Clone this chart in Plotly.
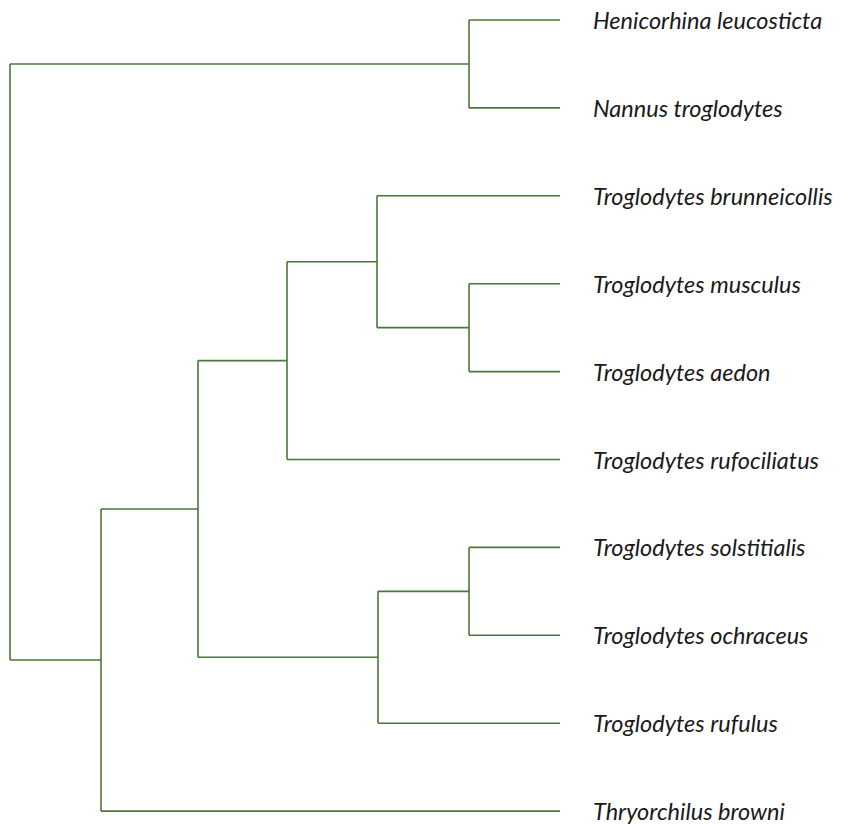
import plotly.graph_objects as go

# Leaves (top to bottom)
species = [
    "Henicorhina leucosticta",
    "Nannus troglodytes",
    "Troglodytes brunneicollis",
    "Troglodytes musculus",
    "Troglodytes aedon",
    "Troglodytes rufociliatus",
    "Troglodytes solstitialis",
    "Troglodytes ochraceus",
    "Troglodytes rufulus",
    "Thryorchilus browni",
]
leaf_depth = 550

# Internal clades: children refer to leaf index (int) or clade name (str)
clade_names = ["HN", "MA", "BMA", "BMAR", "SO", "SOR", "TROG", "TT", "ROOT"]
clade_children = [
    [0, 1],
    [3, 4],
    [2, "MA"],
    ["BMA", 5],
    [6, 7],
    ["SO", 8],
    ["BMAR", "SOR"],
    ["TROG", 9],
    ["HN", "TT"],
]
clade_depth = [459, 459, 367, 277, 459, 368, 188, 91, 0]

LINE = "#4b7838"

depth = {n: d for n, d in zip(clade_names, clade_depth)}
kids = {n: c for n, c in zip(clade_names, clade_children)}


def pos(node):
    if isinstance(node, int):
        return float(node)
    ys = [pos(c) for c in kids[node]]
    return (min(ys) + max(ys)) / 2


def dep(node):
    return leaf_depth if isinstance(node, int) else depth[node]


xs, ys = [], []
for n in clade_names:
    ch = kids[n]
    cy = [pos(c) for c in ch]
    xs += [depth[n], depth[n], None]
    ys += [min(cy), max(cy), None]
    for c, y in zip(ch, cy):
        xs += [depth[n], dep(c), None]
        ys += [y, y, None]

fig = go.Figure()
fig.add_trace(go.Scatter(x=xs, y=ys, mode="lines",
                         line=dict(color=LINE, width=1.6),
                         hoverinfo="skip", showlegend=False))

for i, s in enumerate(species):
    fig.add_annotation(x=leaf_depth + 31, y=i, text=s, xref="x", yref="y",
                       xanchor="left", yanchor="middle", showarrow=False,
                       font=dict(family="Lato", size=23.5, color="#1a1a1a",
                                 style="italic"))

step = 87.9
fig.update_layout(
    width=843, height=825,
    margin=dict(l=0, r=0, t=0, b=0),
    paper_bgcolor="white", plot_bgcolor="white",
    xaxis=dict(range=[-2, 841], visible=False, fixedrange=True),
    yaxis=dict(range=[(825 - 12) / step, -12 / step],
               visible=False, fixedrange=True),
)
fig.write_html("out.html")
